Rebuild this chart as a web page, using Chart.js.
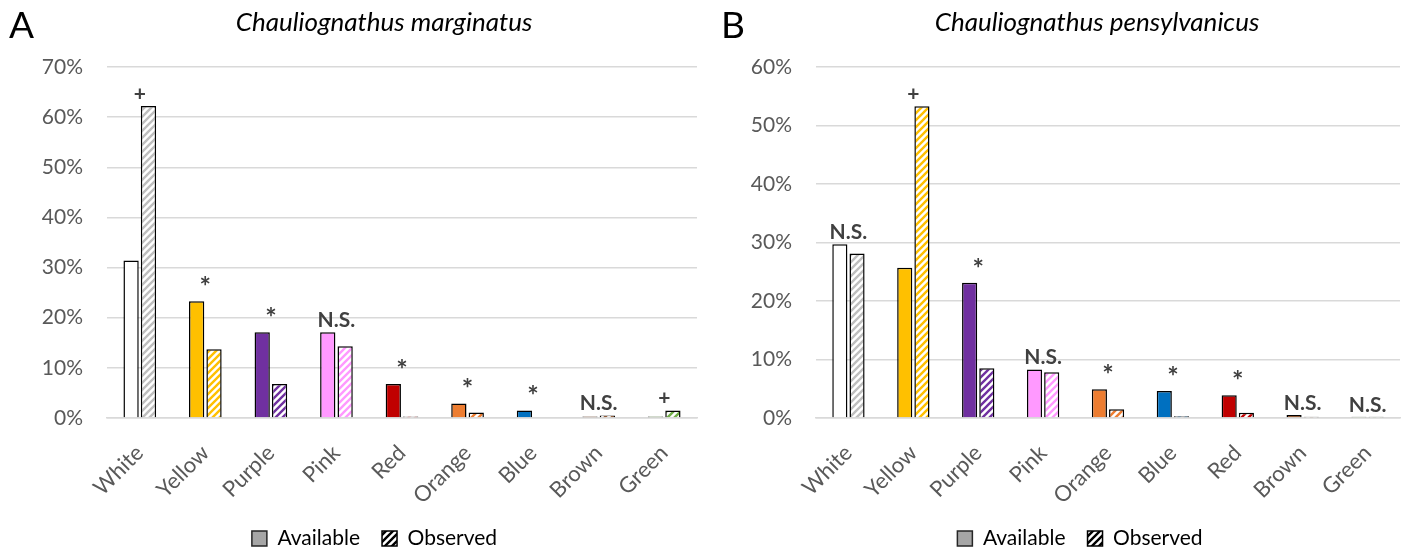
<!DOCTYPE html>
<html>
<head>
<meta charset="utf-8">
<script src="https://cdn.jsdelivr.net/npm/chart.js@4"></script>
<style>
  body { margin: 0; background: #fff; }
  .panel { position: absolute; top: 0; height: 550px; }
  #panelA { left: 0; width: 700px; }
  #panelB { left: 700px; width: 705px; }
</style>
</head>
<body>
<div class="panel" id="panelA"><canvas id="chartA"></canvas></div>
<div class="panel" id="panelB"><canvas id="chartB"></canvas></div>
<script>
// marginatus
const catsA = ['White', 'Yellow', 'Purple', 'Pink', 'Red', 'Orange', 'Blue', 'Brown', 'Green'];
const availA = [31.4, 23.3, 17.1, 17.1, 6.8, 2.9, 1.5, 0.3, 0.3];
const obsA = [62.2, 13.7, 6.8, 14.3, 0.3, 1.1, 0, 0.5, 1.5];
const notesA = ['+', '*', '*', 'N.S.', '*', '*', '*', 'N.S.', '+'];

// pensylvanicus
const catsB = ['White', 'Yellow', 'Purple', 'Pink', 'Orange', 'Blue', 'Red', 'Brown', 'Green'];
const availB = [29.7, 25.7, 23.1, 8.3, 4.9, 4.6, 3.9, 0.5, 0.2];
const obsB = [28.1, 53.3, 8.5, 7.8, 1.5, 0.3, 0.9, 0.2, 0.2];
const notesB = ['N.S.', '+', '*', 'N.S.', '*', '*', '*', 'N.S.', 'N.S.'];

const legendLabels = ['Available', 'Observed'];

const fills = {
    White: '#ffffff', Yellow: '#ffc000', Purple: '#7030a0', Pink: '#ff99ff',
    Red: '#c00000', Orange: '#ed7d31', Blue: '#0070c0', Brown: '#843c0c', Green: '#70ad47'
};
const stripes = Object.assign({}, fills, { White: '#bfbfbf' });

const FONT = 'Lato, "Open Sans", sans-serif';

function hatch(color) {
    const s = 7;
    const c = document.createElement('canvas');
    c.width = s; c.height = s;
    const g = c.getContext('2d');
    g.fillStyle = '#fff';
    g.fillRect(0, 0, s, s);
    g.strokeStyle = color;
    g.lineWidth = 2.4;
    g.beginPath();
    g.moveTo(-1, s + 1); g.lineTo(s + 1, -1);
    g.moveTo(-s / 2 - 1, s / 2 + 1); g.lineTo(s / 2 + 1, -s / 2 - 1);
    g.moveTo(s / 2 - 1, s * 1.5 + 1); g.lineTo(s * 1.5 + 1, s / 2 - 1);
    g.stroke();
    return g.createPattern(c, 'repeat');
}

// significance marks above each pair, plus title and panel letter
const markPlugin = {
    id: 'marks',
    afterLayout(chart, args, opts) {
        // nudge the legend right so it sits under the plot
        chart.legend.left += opts.legendShift;
        chart.legend.right += opts.legendShift;
    },
    afterDatasetsDraw(chart, args, opts) {
        const ctx = chart.ctx;
        const m0 = chart.getDatasetMeta(0).data;
        const m1 = chart.getDatasetMeta(1).data;
        ctx.save();
        ctx.fillStyle = '#404040';
        ctx.textAlign = 'center';
        ctx.textBaseline = 'alphabetic';
        opts.notes.forEach((n, i) => {
            const x = (m0[i].x + m1[i].x) / 2;
            const top = Math.min(m0[i].y, m1[i].y);
            ctx.font = (n === '*' ? 'bold 27px ' : 'bold 21px ') + FONT;
            ctx.fillText(n, x, top - 5);
        });
        ctx.fillStyle = '#000';
        ctx.font = 'italic 26px ' + FONT;
        ctx.fillText(opts.title, opts.titleX, 31);
        ctx.textAlign = 'left';
        ctx.font = '37px ' + FONT;
        ctx.fillText(opts.letter, opts.letterX, 38);
        ctx.restore();
    }
};

function makeChart(id, cats, avail, obs, notes, yMax, title, letter, axisWidth, rightPad, titleX, letterX, legendShift) {
    return new Chart(document.getElementById(id), {
        type: 'bar',
        data: {
            labels: cats,
            datasets: [{
                label: legendLabels[0],
                data: avail,
                backgroundColor: cats.map(c => fills[c]),
                borderColor: '#000',
                borderWidth: 1.5
            }, {
                label: legendLabels[1],
                data: obs,
                backgroundColor: cats.map(c => hatch(stripes[c])),
                borderColor: '#000',
                borderWidth: 1.5
            }]
        },
        options: {
            responsive: true,
            maintainAspectRatio: false,
            animation: false,
            datasets: { bar: { categoryPercentage: 0.53, barPercentage: 0.88 } },
            layout: { padding: { top: 67, right: rightPad, bottom: -9 } },
            scales: {
                x: {
                    grid: { display: false },
                    border: { color: '#d9d9d9', width: 1.5 },
                    ticks: {
                        color: '#595959',
                        padding: 14,
                        font: { family: FONT, size: 22 },
                        minRotation: 45, maxRotation: 45
                    },
                    afterFit(scale) { scale.height = 88; }
                },
                y: {
                    min: 0, max: yMax,
                    grid: { color: '#d9d9d9', lineWidth: 1.5, drawTicks: false },
                    border: { display: false },
                    ticks: {
                        stepSize: 10,
                        padding: 24,
                        color: '#595959',
                        font: { family: FONT, size: 21 },
                        callback: v => v + '%'
                    },
                    afterFit(scale) { scale.width = axisWidth; }
                }
            },
            plugins: {
                tooltip: { enabled: false },
                legend: {
                    position: 'bottom',
                    labels: {
                        color: '#595959',
                        font: { family: FONT, size: 21 },
                        boxWidth: 15, boxHeight: 15,
                        padding: 22,
                        generateLabels: () => [
                            { text: legendLabels[0], fillStyle: '#a6a6a6', strokeStyle: '#262626', lineWidth: 1.5, datasetIndex: 0 },
                            { text: legendLabels[1], fillStyle: hatch('#000'), strokeStyle: '#000', lineWidth: 1.5, datasetIndex: 1 }
                        ]
                    }
                },
                marks: { notes, title, letter, titleX, letterX, legendShift }
            }
        },
        plugins: [markPlugin]
    });
}

makeChart('chartA', catsA, availA, obsA, notesA, 70, 'Chauliognathus marginatus', 'A', 107, 3, 384, 9, 26);
makeChart('chartB', catsB, availB, obsB, notesB, 60, 'Chauliognathus pensylvanicus', 'B', 116, 5, 397, 21, 30);
</script>
</body>
</html>
